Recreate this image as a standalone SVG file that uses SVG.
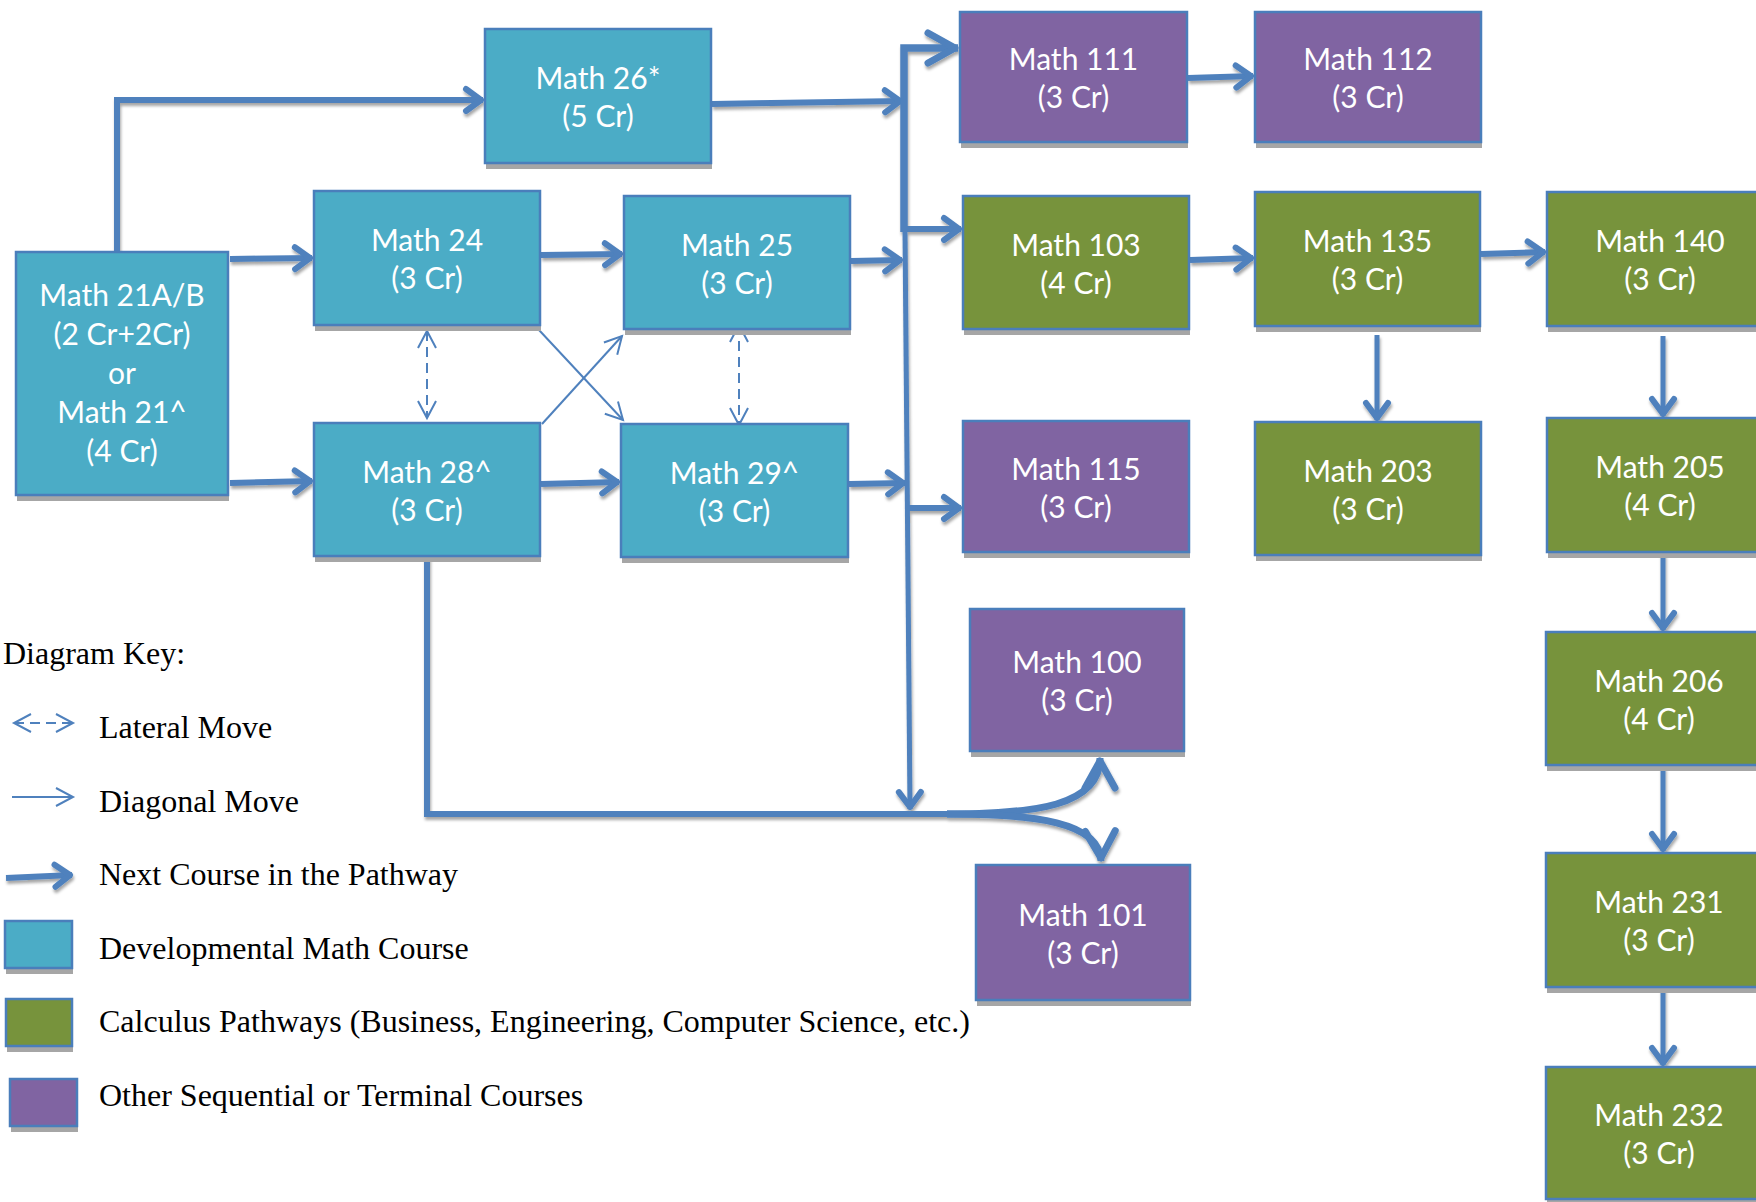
<svg xmlns="http://www.w3.org/2000/svg" width="1756" height="1202" viewBox="0 0 1756 1202">
<style>
.sh{fill:#A6A6A6}
.bx{stroke:#4A7EBB;stroke-width:2.5}
.teal{fill:#4BACC6}
.purple{fill:#8064A2}
.green{fill:#77933C}
.lbl{font-family:Lato,"Open Sans",sans-serif;font-size:30px;fill:#FFFFFF;text-anchor:middle}
.key{font-family:"Liberation Serif","Times New Roman",serif;font-size:32px;fill:#000000}
.thick{fill:none;stroke:#4F81BD;stroke-width:6}
.thin{fill:none;stroke:#4F81BD;stroke-width:2}
.dash{stroke-dasharray:10 6}
</style>
<defs>
<filter id="dsh" filterUnits="userSpaceOnUse" x="0" y="0" width="1756" height="1202">
<feDropShadow dx="1" dy="3" stdDeviation="1.5" flood-color="#000" flood-opacity="0.35"/>
</filter>
<marker id="aT" markerUnits="userSpaceOnUse" viewBox="-30 -20 40 40" markerWidth="40" markerHeight="40" refX="0" refY="0" orient="auto" overflow="visible">
<path d="M-17,-11 L-2,0 L-17,11" fill="none" stroke="#4F81BD" stroke-width="6" stroke-linecap="round" stroke-linejoin="round"/>
</marker>
<marker id="aB" markerUnits="userSpaceOnUse" viewBox="-40 -20 50 40" markerWidth="50" markerHeight="40" refX="0" refY="0" orient="auto" overflow="visible">
<path d="M-30,-15 L-3,0 L-30,15" fill="none" stroke="#4F81BD" stroke-width="7" stroke-linecap="round" stroke-linejoin="round"/>
</marker>
<marker id="aN" markerUnits="userSpaceOnUse" viewBox="-30 -20 40 40" markerWidth="40" markerHeight="40" refX="0" refY="0" orient="auto-start-reverse" overflow="visible">
<path d="M-17,-9 L0,0 L-17,9" fill="none" stroke="#4F81BD" stroke-width="2" stroke-dasharray="none"/>
</marker>
</defs>

<g id="connectors">
<g id="thick-connectors" class="thick" filter="url(#dsh)">
<path d="M117,258 V100 H483" marker-end="url(#aT)"/>
<path d="M230,259 L312,258" marker-end="url(#aT)"/>
<path d="M230,483 L312,481" marker-end="url(#aT)"/>
<path d="M541,255 L622,254" marker-end="url(#aT)"/>
<path d="M541,484 L619,482" marker-end="url(#aT)"/>
<path d="M712,104 L902,101" marker-end="url(#aT)"/>
<path d="M851,261 L902,260" marker-end="url(#aT)"/>
<path d="M849,484 L905,483" marker-end="url(#aT)"/>
<path d="M904,232 V48 H958" stroke-width="7.5" marker-end="url(#aB)"/>
<path d="M904,229 H961" marker-end="url(#aT)"/>
<path d="M905,230 L910,809" stroke-width="5" marker-end="url(#aT)"/>
<path d="M909,508 H961" marker-end="url(#aT)"/>
<path d="M1188,78 L1253,76" marker-end="url(#aT)"/>
<path d="M1190,260 L1253,258" marker-end="url(#aT)"/>
<path d="M1481,254 L1545,252" marker-end="url(#aT)"/>
<path d="M1377,335 V420" stroke-width="5" marker-end="url(#aT)"/>
<path d="M1663,336 V416" stroke-width="5" marker-end="url(#aT)"/>
<path d="M1663,553 V630" stroke-width="5" marker-end="url(#aT)"/>
<path d="M1663,767 V851" stroke-width="5" marker-end="url(#aT)"/>
<path d="M1663,988 V1065" stroke-width="5" marker-end="url(#aT)"/>
<path d="M427,557 V814 H950"/>
<path d="M947,814 C1035,814 1100,806 1100,758" stroke-width="7" marker-end="url(#aB)"/>
<path d="M947,814 C1035,814 1100,822 1101,861" stroke-width="7" marker-end="url(#aB)"/>
</g>
<g id="thin-connectors" class="thin">
<path class="dash" d="M427,331 V418" marker-start="url(#aN)" marker-end="url(#aN)"/>
<path class="dash" d="M739,325 V425" marker-start="url(#aN)" marker-end="url(#aN)"/>
<path d="M539,330 L623,420" marker-end="url(#aN)"/>
<path d="M542,424 L622,336" marker-end="url(#aN)"/>
</g>
</g>

<g id="m21"><rect class="sh" x="17" y="258" width="212" height="243"/><rect class="bx teal" x="16" y="252" width="212" height="243"/>
<text class="lbl"><tspan x="122" y="306">Math 21A/B</tspan><tspan x="122" y="345">(2 Cr+2Cr)</tspan><tspan x="122" y="384">or</tspan><tspan x="122" y="423">Math 21^</tspan><tspan x="122" y="462">(4 Cr)</tspan></text></g>
<g id="m26"><rect class="sh" x="486" y="35" width="226" height="134"/><rect class="bx teal" x="485" y="29" width="226" height="134"/>
<text class="lbl"><tspan x="598" y="89">Math 26*</tspan><tspan x="598" y="127">(5 Cr)</tspan></text></g>
<g id="m24"><rect class="sh" x="315" y="197" width="226" height="134"/><rect class="bx teal" x="314" y="191" width="226" height="134"/>
<text class="lbl"><tspan x="427" y="251">Math 24</tspan><tspan x="427" y="289">(3 Cr)</tspan></text></g>
<g id="m25"><rect class="sh" x="625" y="202" width="226" height="133"/><rect class="bx teal" x="624" y="196" width="226" height="133"/>
<text class="lbl"><tspan x="737" y="255.5">Math 25</tspan><tspan x="737" y="293.5">(3 Cr)</tspan></text></g>
<g id="m28"><rect class="sh" x="315" y="429" width="226" height="133"/><rect class="bx teal" x="314" y="423" width="226" height="133"/>
<text class="lbl"><tspan x="427" y="482.5">Math 28^</tspan><tspan x="427" y="520.5">(3 Cr)</tspan></text></g>
<g id="m29"><rect class="sh" x="622" y="430" width="227" height="133"/><rect class="bx teal" x="621" y="424" width="227" height="133"/>
<text class="lbl"><tspan x="734.5" y="483.5">Math 29^</tspan><tspan x="734.5" y="521.5">(3 Cr)</tspan></text></g>
<g id="m111"><rect class="sh" x="961" y="18" width="227" height="130"/><rect class="bx purple" x="960" y="12" width="227" height="130"/>
<text class="lbl"><tspan x="1073.5" y="70">Math 111</tspan><tspan x="1073.5" y="108">(3 Cr)</tspan></text></g>
<g id="m112"><rect class="sh" x="1256" y="18" width="226" height="130"/><rect class="bx purple" x="1255" y="12" width="226" height="130"/>
<text class="lbl"><tspan x="1368" y="70">Math 112</tspan><tspan x="1368" y="108">(3 Cr)</tspan></text></g>
<g id="m103"><rect class="sh" x="964" y="202" width="226" height="133"/><rect class="bx green" x="963" y="196" width="226" height="133"/>
<text class="lbl"><tspan x="1076" y="255.5">Math 103</tspan><tspan x="1076" y="293.5">(4 Cr)</tspan></text></g>
<g id="m135"><rect class="sh" x="1256" y="198" width="225" height="134"/><rect class="bx green" x="1255" y="192" width="225" height="134"/>
<text class="lbl"><tspan x="1367.5" y="252">Math 135</tspan><tspan x="1367.5" y="290">(3 Cr)</tspan></text></g>
<g id="m140"><rect class="sh" x="1548" y="198" width="226" height="134"/><rect class="bx green" x="1547" y="192" width="226" height="134"/>
<text class="lbl"><tspan x="1660" y="252">Math 140</tspan><tspan x="1660" y="290">(3 Cr)</tspan></text></g>
<g id="m115"><rect class="sh" x="964" y="427" width="226" height="131"/><rect class="bx purple" x="963" y="421" width="226" height="131"/>
<text class="lbl"><tspan x="1076" y="479.5">Math 115</tspan><tspan x="1076" y="517.5">(3 Cr)</tspan></text></g>
<g id="m203"><rect class="sh" x="1256" y="428" width="226" height="133"/><rect class="bx green" x="1255" y="422" width="226" height="133"/>
<text class="lbl"><tspan x="1368" y="481.5">Math 203</tspan><tspan x="1368" y="519.5">(3 Cr)</tspan></text></g>
<g id="m205"><rect class="sh" x="1548" y="424" width="226" height="134"/><rect class="bx green" x="1547" y="418" width="226" height="134"/>
<text class="lbl"><tspan x="1660" y="478">Math 205</tspan><tspan x="1660" y="516">(4 Cr)</tspan></text></g>
<g id="m100"><rect class="sh" x="971" y="615" width="214" height="142"/><rect class="bx purple" x="970" y="609" width="214" height="142"/>
<text class="lbl"><tspan x="1077" y="673">Math 100</tspan><tspan x="1077" y="711">(3 Cr)</tspan></text></g>
<g id="m101"><rect class="sh" x="977" y="871" width="214" height="135"/><rect class="bx purple" x="976" y="865" width="214" height="135"/>
<text class="lbl"><tspan x="1083" y="925.5">Math 101</tspan><tspan x="1083" y="963.5">(3 Cr)</tspan></text></g>
<g id="m206"><rect class="sh" x="1547" y="638" width="226" height="133"/><rect class="bx green" x="1546" y="632" width="226" height="133"/>
<text class="lbl"><tspan x="1659" y="691.5">Math 206</tspan><tspan x="1659" y="729.5">(4 Cr)</tspan></text></g>
<g id="m231"><rect class="sh" x="1547" y="859" width="226" height="134"/><rect class="bx green" x="1546" y="853" width="226" height="134"/>
<text class="lbl"><tspan x="1659" y="913">Math 231</tspan><tspan x="1659" y="951">(3 Cr)</tspan></text></g>
<g id="m232"><rect class="sh" x="1547" y="1073" width="226" height="132"/><rect class="bx green" x="1546" y="1067" width="226" height="132"/>
<text class="lbl"><tspan x="1659" y="1126">Math 232</tspan><tspan x="1659" y="1164">(3 Cr)</tspan></text></g>

<g id="legend">
<text class="key" x="3" y="664">Diagram Key:</text>
<path class="thin dash" d="M14,723 H73" stroke-dasharray="9 6" marker-start="url(#aN)" marker-end="url(#aN)"/>
<text class="key" x="99" y="738">Lateral Move</text>
<path class="thin" d="M12,797 H73" marker-end="url(#aN)"/>
<text class="key" x="99" y="812">Diagonal Move</text>
<path class="thick" d="M6,878 L72,875" filter="url(#dsh)" marker-end="url(#aT)"/>
<text class="key" x="99" y="885">Next Course in the Pathway</text>
<rect class="sh" x="6" y="927" width="67" height="47"/><rect class="bx teal" x="5" y="921" width="67" height="47"/>
<text class="key" x="99" y="959">Developmental Math Course</text>
<rect class="sh" x="7" y="1005" width="66" height="47"/><rect class="bx green" x="6" y="999" width="66" height="47"/>
<text class="key" x="99" y="1032">Calculus Pathways (Business, Engineering, Computer Science, etc.)</text>
<rect class="sh" x="11" y="1085" width="67" height="47"/><rect class="bx purple" x="10" y="1079" width="67" height="47"/>
<text class="key" x="99" y="1106">Other Sequential or Terminal Courses</text>
</g>
</svg>
